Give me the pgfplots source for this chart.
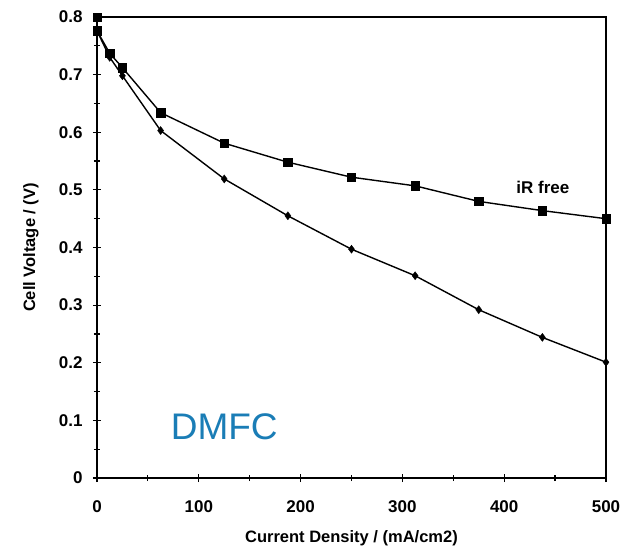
\documentclass[border=0pt]{standalone}
\usepackage{pgfplots}
\pgfplotsset{compat=1.18}
\usepackage{fontspec}
\setmainfont{Liberation Sans}
\definecolor{dmfc}{HTML}{1A7DB6}
\begin{document}
\begin{tikzpicture}
\begin{axis}[
  scale only axis, width=509pt, height=461pt,
  xmin=0, xmax=500, ymin=0, ymax=0.8,
  xtick={0,100,...,500}, ytick={0,0.1,...,0.8},
  minor xtick={50,150,250,350,450}, minor ytick={0.05,0.15,...,0.75},
  tick align=center, xtick pos=bottom, ytick pos=left,
  major tick length=8pt, minor tick length=6pt,
  axis line style={line width=1.4pt},
  every tick/.style={black, line width=1.2pt},
  /pgf/number format/assume math mode=true,
  ticklabel style={font=\fontsize{17}{19}\selectfont\bfseries},
  yticklabel={\ifdim\tick pt=0pt 0\else\pgfmathprintnumber[fixed,precision=1]{\tick}\fi},
  xticklabel style={yshift=-15pt},
  yticklabel style={xshift=-7pt},
  xlabel={Current Density / (mA/cm2)},
  ylabel={Cell Voltage / (V)},
  every axis x label/.style={at={(rel axis cs:0.5,0)}, yshift=-60pt, anchor=center,
    font=\fontsize{16.5}{19}\selectfont\bfseries},
  every axis y label/.style={at={(rel axis cs:0,0.5)}, xshift=-66pt, rotate=90, anchor=center,
    font=\fontsize{16.5}{19}\selectfont\bfseries},
  clip=false,
]
\addplot[black, line width=1.4pt, mark=square*, mark size=4.2pt, mark options={line width=0.4pt}] coordinates {
(0,0.776) (12.5,0.737) (25,0.712) (62.5,0.634) (125,0.581) (187.5,0.548)
(250,0.522) (312.5,0.507) (375,0.480) (437.5,0.464) (500,0.450)};
\addplot[black, line width=1.4pt, mark=diamond*, mark size=4pt, mark options={line width=0.4pt}] coordinates {
(0,0.776) (12.5,0.730) (25,0.698) (62.5,0.603) (125,0.519) (187.5,0.455)
(250,0.397) (312.5,0.351) (375,0.292) (437.5,0.244) (500,0.201)};
\addplot[only marks, black, mark=square*, mark size=4.2pt, mark options={line width=0.4pt}] coordinates {(0,0.8)};
\node[font=\fontsize{17}{19}\selectfont\bfseries] at (axis cs:438,0.505) {iR free};
\node[font=\fontsize{37}{40}\selectfont, text=dmfc] at (axis cs:125,0.0885) {DMFC};
\coordinate (O) at (rel axis cs:0,0);
\end{axis}
\pgfresetboundingbox
\useasboundingbox (O) ++(-97pt,-69pt) rectangle ++(633pt,547pt);
\end{tikzpicture}
\end{document}
